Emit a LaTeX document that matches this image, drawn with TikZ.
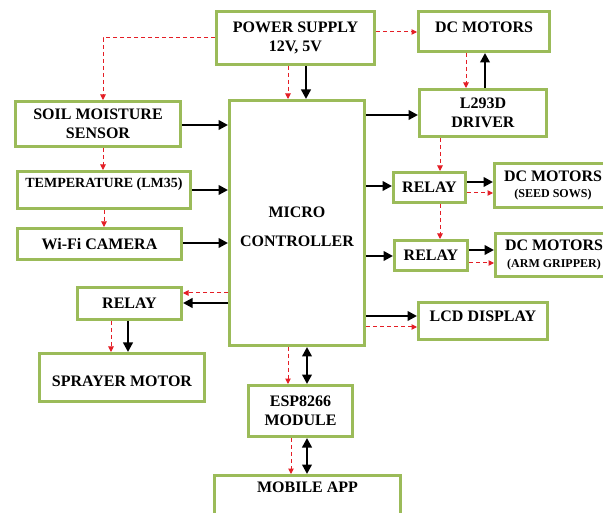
\documentclass[tikz,border=0pt]{standalone}
\usepackage{fontspec}
\setmainfont{Liberation Serif}
\usetikzlibrary{arrows.meta}
\definecolor{boxgreen}{RGB}{155,187,89}
\definecolor{dashred}{RGB}{228,30,38}
\begin{document}
\begin{tikzpicture}[x=1pt,y=-1pt,
  font=\fontsize{16}{19.5}\selectfont\bfseries,
  box/.style={draw=boxgreen, line width=3pt, fill=white, inner sep=0pt, align=center},
  blk/.style={line width=2.8pt, -{Triangle[length=9.5pt,width=9.5pt]}},
  dbl/.style={line width=2.8pt, {Triangle[length=9.5pt,width=9.5pt]}-{Triangle[length=9.5pt,width=9.5pt]}},
  pwr/.style={draw=dashred, line width=1pt, dash pattern=on 4pt off 3pt, -{Triangle[length=5.5pt,width=5.5pt]}}
]
\useasboundingbox (0,0) rectangle (603,513);
\fill[white] (0,0) rectangle (603,513);
\clip (0,0) rectangle (603,513);

% boxes
\node[box, minimum width=158pt, minimum height=53pt] (ps) at (295.5,38) {POWER SUPPLY\\12V, 5V};
\node[box, minimum width=131pt, minimum height=40pt,
      label={[name=dctopT, yshift=4.5pt]center:DC MOTORS}] (dctop) at (484,31.5) {};
\node[box, minimum width=127pt, minimum height=47pt] (drv) at (483,113) {L293D\\DRIVER};
\node[box, minimum width=135pt, minimum height=245pt,
      label={[name=mcT, yshift=-4pt, align=center]center:MICRO\\[10pt]CONTROLLER}] (mc) at (297,223) {};
\node[box, minimum width=165pt, minimum height=45pt] (soil) at (98,124) {SOIL MOISTURE\\SENSOR};
\node[box, minimum width=173pt, minimum height=37pt,
      label={[name=tempT, yshift=6pt, font=\fontsize{14}{16}\selectfont\bfseries]center:TEMPERATURE (LM35)}] (temp) at (104,190) {};
\node[box, minimum width=164pt, minimum height=31pt] (wifi) at (99.5,244) {Wi-Fi CAMERA};
\node[box, minimum width=104pt, minimum height=32pt] (relL) at (129.5,303.5) {RELAY};
\node[box, minimum width=165pt, minimum height=48pt,
      label={[name=sprayT, yshift=-3.5pt]center:SPRAYER MOTOR}] (spray) at (122,377.5) {};
\node[box, minimum width=104pt, minimum height=51pt] (esp) at (300.5,411) {ESP8266\\MODULE};
\node[box, minimum width=186pt, minimum height=53pt,
      label={[name=mobT, yshift=15pt]center:MOBILE APP}] (mob) at (307.5,502) {};
\node[box, minimum width=72pt, minimum height=30pt] (rel1) at (429.5,187.5) {RELAY};
\node[box, minimum width=117pt, minimum height=44pt] (seed) at (553,185.5) {DC MOTORS\\[-3pt]{\fontsize{12}{13}\selectfont (SEED SOWS)}};
\node[box, minimum width=73pt, minimum height=30pt] (rel2) at (431,255.5) {RELAY};
\node[box, minimum width=117pt, minimum height=43pt] (arm) at (554,255) {DC MOTORS\\[-3pt]{\fontsize{12}{13}\selectfont (ARM GRIPPER)}};
\node[box, minimum width=129pt, minimum height=37pt,
      label={[name=lcdT, yshift=5pt]center:LCD DISPLAY}] (lcd) at (483,321) {};

% power (red dashed) connectors
\draw[pwr] (ps.west |- 0,38) -| (soil.north -| 103,0);
\draw[pwr] (ps.south -| 288,0) -- (mc.north -| 288,0);
\draw[pwr] (ps.east |- 0,32) -- (dctop.west |- 0,32);
\draw[pwr] (dctop.south -| 466,0) -- (drv.north -| 466,0);
\draw[pwr] (drv.south -| 440,0) -- (rel1.north -| 440,0);
\draw[pwr] (rel1.south -| 440,0) -- (rel2.north -| 440,0);
\draw[pwr] (rel1.east |- 0,193) -- (seed.west |- 0,193);
\draw[pwr] (rel2.east |- 0,263) -- (arm.west |- 0,263);
\draw[pwr] (mc.east |- 0,327) -- (lcd.west |- 0,327);
\draw[pwr] (mc.west |- 0,293) -- (relL.east |- 0,293);
\draw[pwr] (relL.south -| 111,0) -- (spray.north -| 111,0);
\draw[pwr] (mc.south -| 288,0) -- (esp.north -| 288,0);
\draw[pwr] (esp.south -| 291,0) -- (mob.north -| 291,0);
\draw[pwr] (soil.south -| 103,0) -- (temp.north -| 103,0);
\draw[pwr] (temp.south -| 104,0) -- (wifi.north -| 104,0);

% signal (black) connectors
\draw[blk] (ps.south -| 306,0) -- (mc.north -| 306,0);
\draw[blk] (drv.north -| 485,0) -- (dctop.south -| 485,0);
\draw[blk] (mc.east |- 0,115) -- (drv.west |- 0,115);
\draw[blk] (mc.east |- 0,186) -- (rel1.west |- 0,186);
\draw[blk] (rel1.east |- 0,182) -- (seed.west |- 0,182);
\draw[blk] (mc.east |- 0,256) -- (rel2.west |- 0,256);
\draw[blk] (rel2.east |- 0,250) -- (arm.west |- 0,250);
\draw[blk] (mc.east |- 0,316) -- (lcd.west |- 0,316);
\draw[blk] (soil.east |- 0,125) -- (mc.west |- 0,125);
\draw[blk] (temp.east |- 0,190) -- (mc.west |- 0,190);
\draw[blk] (wifi.east |- 0,243) -- (mc.west |- 0,243);
\draw[blk] (mc.west |- 0,303) -- (relL.east |- 0,303);
\draw[blk] (relL.south -| 128,0) -- (spray.north -| 128,0);
\draw[dbl] (mc.south -| 307,0) -- (esp.north -| 307,0);
\draw[dbl] (esp.south -| 307,0) -- (mob.north -| 307,0);
\end{tikzpicture}
\end{document}
